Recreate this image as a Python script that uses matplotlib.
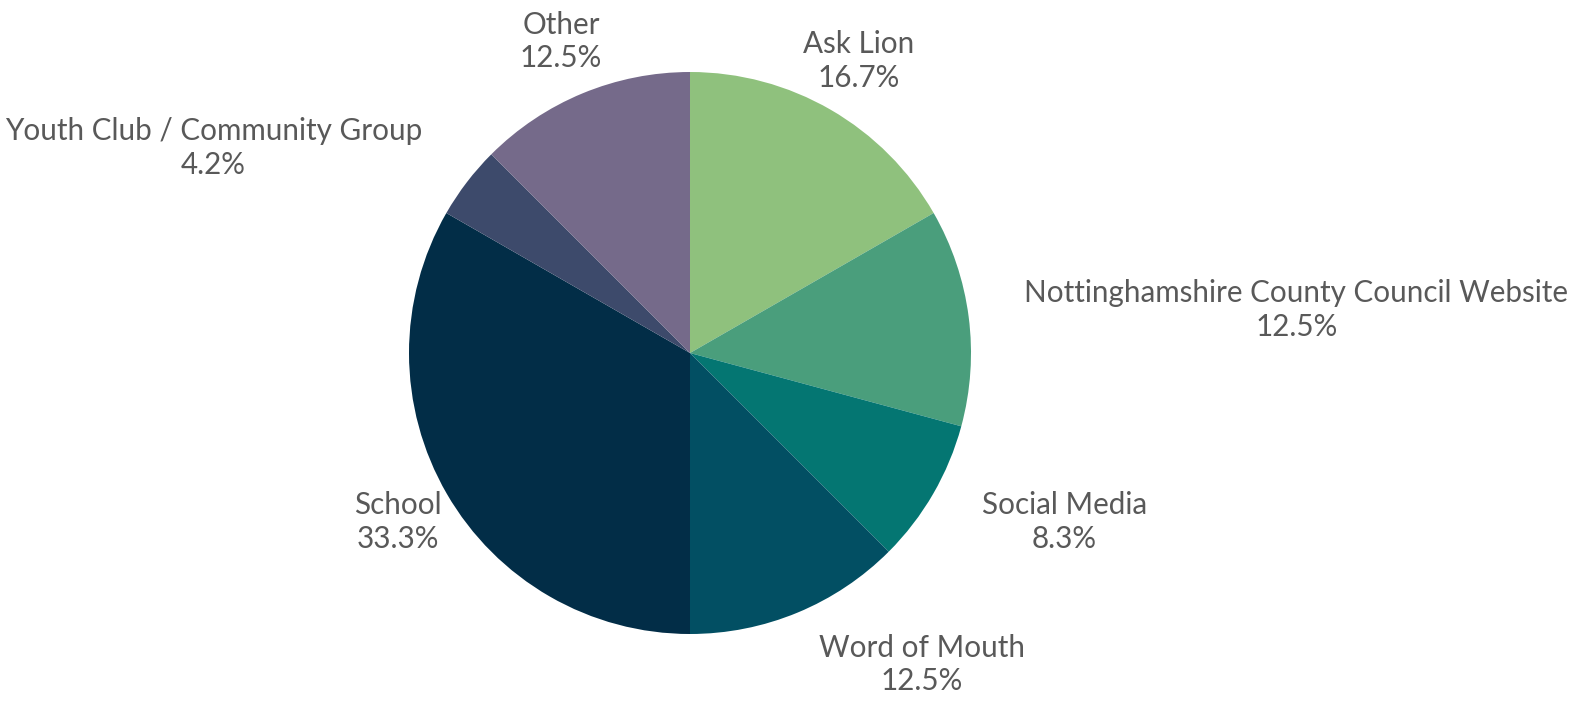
import matplotlib.pyplot as plt

# where people heard about the service
sources = ['Ask Lion', 'Nottinghamshire County Council Website', 'Social Media',
           'Word of Mouth', 'School', 'Youth Club / Community Group', 'Other']
shares = [16.7, 12.5, 8.3, 12.5, 33.3, 4.2, 12.5]
colours = ['#8fc17d', '#4a9e7c', '#047672', '#024f63', '#022d47', '#3d4a6b', '#756a8a']
aligns = ['center', 'left', 'left', 'left', 'center', 'right', 'center']

plt.rcParams['font.family'] = ['Lato', 'DejaVu Sans']

fig = plt.figure(figsize=(15.74, 7.02), dpi=100)
ax = fig.add_axes([0, 0, 1, 1])

labels = [f'{s}\n{v:.1f}%' for s, v in zip(sources, shares)]
wedges, texts = ax.pie(shares, labels=labels, colors=colours, startangle=90,
                       counterclock=False, center=(690, 349), radius=281,
                       labeldistance=1.2, frame=True,
                       textprops={'fontsize': 21.3, 'color': '#595959',
                                  'linespacing': 1.25})
ax.set_xlim(0, 1574)
ax.set_ylim(0, 702)
ax.set_aspect('equal')
ax.axis('off')
for t, a in zip(texts, aligns):
    t.set_ha(a)
    t.set_va('center')
    t.set_multialignment('center')

fig.savefig('out.png', dpi=100, facecolor='white')
